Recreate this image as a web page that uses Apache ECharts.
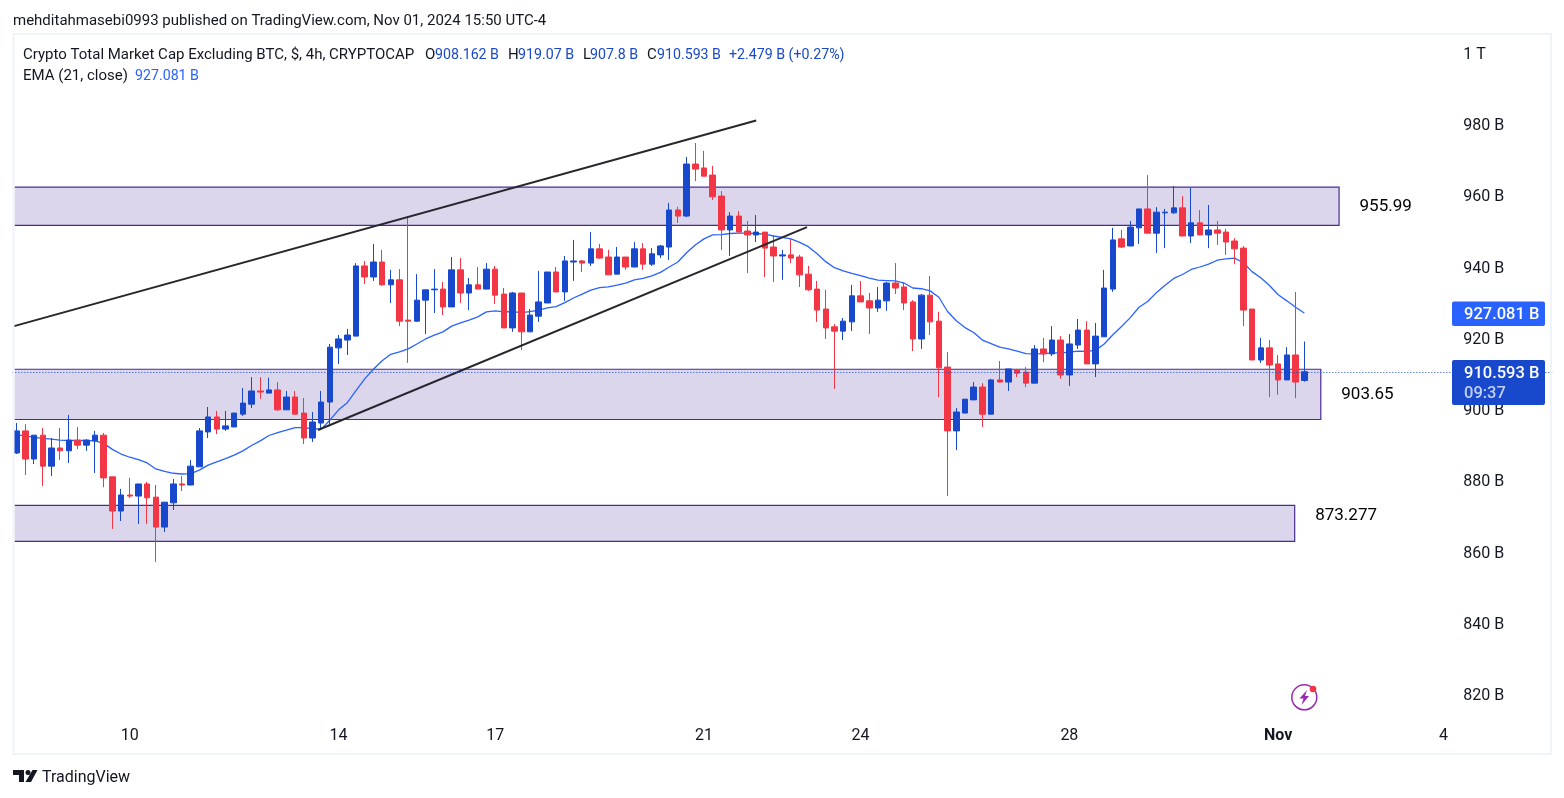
<!DOCTYPE html>
<html><head><meta charset="utf-8">
<style>html,body{margin:0;padding:0;background:#fff}#c{width:1564px;height:798px}</style>
<script src="https://cdn.jsdelivr.net/npm/echarts@6/dist/echarts.min.js"></script>
</head><body><div id="c"></div>
<script>
const opens=[887.8,894.0,886.1,892.8,884.1,889.2,888.4,891.4,890.0,891.2,
892.8,881.1,871.5,876.0,875.7,879.1,875.4,867.0,873.8,879.1,
878.8,883.9,893.7,897.9,894.5,895.1,898.7,901.5,905.2,904.6,
905.5,899.9,903.5,899.0,892.0,896.2,902.1,917.3,919.5,920.6,
940.3,937.2,941.4,935.0,936.4,925.1,924.8,930.7,933.6,933.8,
928.8,939.2,932.7,935.0,933.8,939.4,932.4,922.9,932.7,921.8,
926.2,929.9,938.6,933.0,941.4,941.7,941.1,945.1,942.8,938.0,
942.8,940.0,945.1,940.8,943.4,945.6,956.0,954.3,968.9,967.8,
965.8,959.9,950.4,954.3,950.1,949.0,949.8,945.6,943.1,943.4,
942.8,938.0,933.8,928.2,923.2,922.0,924.6,931.9,930.5,928.5,
930.5,935.5,934.4,930.2,919.8,932.1,924.8,911.9,894.0,899.0,
902.7,906.3,898.7,908.3,907.7,911.1,910.5,907.4,917.0,915.6,
919.5,909.7,918.1,922.3,912.8,920.4,933.8,947.9,945.9,951.0,
956.3,949.5,955.2,955.2,956.6,948.7,952.4,949.0,950.4,949.8,
947.3,945.3,928.2,913.9,917.3,912.8,908.3,915.3,908.162];
const closes=[894.0,886.1,892.8,884.1,889.2,888.4,891.4,890.0,891.4,892.8,
880.8,871.5,876.0,875.7,879.1,875.2,867.0,874.0,879.1,878.8,
884.1,894.0,897.9,894.5,895.4,899.0,901.8,905.2,904.9,905.5,
899.9,903.5,898.7,892.0,896.5,902.1,917.5,919.8,920.9,940.3,
937.2,941.4,935.0,936.4,924.8,924.8,930.7,933.6,933.8,928.8,
939.2,932.7,935.0,933.8,939.4,932.1,922.9,932.7,921.8,926.5,
930.2,938.6,933.0,941.7,941.7,941.1,945.1,942.5,937.8,942.8,
940.0,945.1,940.8,943.7,945.9,956.0,954.3,968.9,967.5,965.5,
959.7,950.4,954.3,949.8,949.0,949.8,945.3,943.1,943.4,942.5,
937.8,933.6,927.9,922.9,922.0,924.8,931.9,930.2,928.5,930.7,
935.5,934.1,929.9,919.8,932.1,924.6,911.7,894.0,899.3,902.9,
906.3,898.7,908.3,907.7,911.4,910.2,907.4,917.0,915.6,919.5,
909.7,918.4,922.3,912.8,920.6,934.1,947.6,945.6,951.2,956.3,
949.5,955.4,955.4,956.6,948.7,952.4,949.0,950.4,949.5,947.0,
945.1,927.9,913.9,917.3,912.5,908.3,915.3,907.7,910.593];
const lows=[887.5,881.6,884.7,878.5,881.3,885.8,885.0,888.9,888.4,882.2,
878.2,866.5,868.7,875.2,867.9,867.9,857.2,865.6,871.8,877.1,
878.8,883.9,892.0,893.1,894.0,895.1,898.2,900.4,903.0,904.6,
899.6,899.9,898.7,890.3,890.9,894.8,895.4,912.8,915.3,920.6,
935.2,936.1,934.7,929.9,923.4,913.1,924.6,921.2,927.1,926.5,
928.8,929.9,927.9,933.8,933.8,929.6,922.9,921.8,916.7,921.8,
924.6,929.9,933.0,930.5,936.1,938.6,940.3,942.3,937.8,938.0,
939.2,940.0,939.2,940.3,942.5,942.0,952.4,954.0,964.1,965.5,
958.8,944.8,943.1,949.8,938.3,947.0,937.2,935.8,936.4,941.1,
934.4,933.3,924.6,919.8,905.8,919.5,922.0,930.2,921.2,927.4,
927.7,932.4,927.9,916.4,917.0,920.9,903.5,875.7,888.6,899.0,
902.7,895.1,898.5,907.7,905.2,909.1,906.3,907.4,913.3,915.0,
908.6,906.6,917.0,912.8,909.1,920.4,933.0,945.3,945.9,946.5,
949.5,943.9,945.3,954.9,948.7,946.7,949.0,945.3,946.2,943.4,
940.8,923.4,913.9,913.1,903.5,904.1,908.3,903.2,907.8];
const highs=[896.2,895.9,892.8,894.8,892.0,894.8,898.5,895.1,891.7,894.0,
893.4,881.1,877.7,880.8,879.1,879.7,878.8,874.0,880.5,881.3,
885.8,894.8,900.7,899.6,899.6,899.0,906.0,909.1,909.1,908.9,
907.7,905.2,905.2,903.2,899.3,905.2,918.4,920.9,922.6,941.1,
941.7,946.5,944.8,939.2,939.4,954.3,938.0,933.6,939.4,935.8,
942.8,942.5,936.9,940.0,941.1,940.3,934.1,933.0,932.7,928.2,
938.9,938.6,940.0,943.1,947.6,942.0,949.8,946.5,944.8,945.6,
942.8,947.0,946.7,945.3,946.2,958.0,956.9,970.9,974.8,972.6,
968.4,961.3,955.4,955.7,952.9,954.6,949.8,949.0,944.8,947.9,
943.4,940.3,936.1,933.6,924.0,925.7,935.0,936.1,932.7,934.4,
935.8,941.1,935.8,930.7,932.4,937.5,927.4,916.1,900.4,902.9,
907.7,907.4,908.6,913.6,911.4,911.4,911.9,918.1,920.1,923.4,
920.6,921.2,925.4,924.8,924.3,939.2,951.0,950.4,952.9,956.3,
965.8,956.8,956.3,962.7,959.9,962.2,956.0,957.4,952.9,950.7,
948.1,945.9,928.2,920.1,919.5,915.3,917.5,933.0,919.07];
const ema=[892.9,892.6,892.2,891.9,891.7,891.4,891.3,891.3,891.3,891.2,
890.5,888.8,887.5,886.6,885.9,885,883.3,882.6,882.1,881.9,
882,883,884.4,885.3,886.2,887.2,888.4,889.9,891.2,892.7,
893.5,894.2,894.9,894.9,894.6,894.5,897,899.9,901.9,905.3,
908.6,911.3,913.7,915.5,916.2,917,918.4,919.8,920.9,921.8,
923.4,924.3,925.1,926,927.4,927.7,927.4,927.5,927.2,927.5,
927.9,928.5,928.9,930,931.3,932.4,933.5,934.2,934.4,934.9,
935.5,936.4,936.8,937.5,938.5,940,941.4,944,946.2,947.9,
949,949.1,949.4,949.5,949.5,949.4,949.2,948.7,948.3,947.9,
946.9,945.7,943.7,941.5,939.8,938.9,938.2,937.6,936.9,936.3,
936.2,936.1,935.5,934.1,933.9,933.3,931.5,927.5,924.9,923,
921.6,919.5,918.5,917.5,917,916.4,915.7,915.6,915.7,915.9,
915.9,916.1,916.4,916.3,916.6,918.4,921,923.3,925.8,928.7,
930.3,932.8,934.9,936.8,937.9,939.3,940,940.8,941.9,942.3,
942.5,941.2,938.7,937,934.8,932.2,930.5,928.7,927.081];
const tickBars=[13,37,55,79,97,121,145,164];
const tickLabels=['10','14','17','21','24','28','{b|Nov}','4'];
const totalBars=177;
const zoneTop=[962.4,911.3,873.1];
const zoneBottom=[951.7,897.2,863.0];
const zoneEnd=[152.5,150.4,147.4];
const zoneLabel=['955.99','903.65','873.277'];
const zoneLabelLevel=[956.9,904.1,870.1];
const trendUpper=[[0.2,923.4],[85.5,981.1]];
const trendLower=[[35.14,894.25],[91.34,951.2]];
const priceLineLevel=910.45;

const BLUE='#1848cc',RED='#f23645',INK='#131722',ZONE='#4a2c91';
const FONT='Roboto';
const cats=[];for(let i=0;i<totalBars;i++){const k=tickBars.indexOf(i);cats.push(k>=0?tickLabels[k]:'');}
const candle=opens.map((o,i)=>[o,closes[i],lows[i],highs[i]]);

function txt(x,y,s,fill,size,weight){return {type:'text',z:100,style:{x,y,text:s,fill:fill||INK,font:(weight?weight+' ':'')+(size||15)+'px '+FONT,verticalAlign:'middle',align:'left'}};}
const graphic=[
 {type:'rect',z:99,shape:{x:13.5,y:34,width:1537.5,height:720},style:{fill:'none',stroke:'#f0f3fa',lineWidth:2}},
 txt(13,21.5,'mehditahmasebi0993 published on TradingView.com, Nov 01, 2024 15:50 UTC-4'),
 txt(23,55.5,'Crypto Total Market Cap Excluding BTC, $, 4h, CRYPTOCAP'),
 txt(425,55.5,'O'),txt(435,55.5,'908.162 B',BLUE,14.2),
 txt(508,55.5,'H'),txt(518,55.5,'919.07 B',BLUE,14.2),
 txt(583,55.5,'L'),txt(590,55.5,'907.8 B',BLUE,14.2),
 txt(647,55.5,'C'),txt(657,55.5,'910.593 B',BLUE,14.2),
 txt(729,55.5,'+2.479 B (+0.27%)',BLUE,14.2),
 txt(23,76.5,'EMA (21, close)'),txt(135,76.5,'927.081 B','#2962ff',14.2),
 {type:'rect',z:100,shape:{x:1452,y:301.5,width:93,height:24.5,r:2},style:{fill:'#2962ff'}},
 txt(1464,314.5,'927.081 B','#fff',16.5,500),
 {type:'rect',z:100,shape:{x:1452,y:360,width:93,height:45,r:2},style:{fill:BLUE}},
 txt(1464,373.5,'910.593 B','#fff',16.5,500),
 txt(1464,393.5,'09:37','#c2cff2',16.5,500),
 txt(42,777.5,'TradingView','#131722',16),
 {type:'polygon',z:100,shape:{points:[[13,770],[24,770],[24,782],[19,782],[19,775],[13,775]]},style:{fill:'#131722'}},
 {type:'circle',z:100,shape:{cx:28,cy:772.5,r:2.5},style:{fill:'#131722'}},
 {type:'polygon',z:100,shape:{points:[[32.5,770],[37.5,770],[31,782],[25.5,782]]},style:{fill:'#131722'}},
 {type:'circle',z:100,shape:{cx:1304.3,cy:697.3,r:12.5},style:{fill:'#fff',stroke:'#9c27b0',lineWidth:1.5}},
 {type:'circle',z:101,shape:{cx:1313,cy:689,r:3.3},style:{fill:'#f23645'}},
 {type:'polygon',z:101,shape:{points:[[1307,690],[1299.5,698.5],[1303.5,698.5],[1301.5,705],[1309,696],[1305,696]]},style:{fill:'#9c27b0'}}
];
function zoneRender(params,api){
 const i=params.dataIndex;
 const a=api.coord([0.25,zoneTop[i]]),b=api.coord([zoneEnd[i],zoneBottom[i]]);
 const t=api.coord([zoneEnd[i],zoneLabelLevel[i]]);
 return {type:'group',children:[
  {type:'rect',shape:{x:a[0],y:a[1],width:b[0]-a[0],height:b[1]-a[1]},style:{fill:'#dcd6ec'}},
  {type:'polyline',shape:{points:[[a[0],a[1]],[b[0],a[1]],[b[0],b[1]],[a[0],b[1]]]},style:{fill:'none',stroke:ZONE,lineWidth:1.2}},
  {type:'text',style:{x:t[0]+20.5,y:t[1],text:zoneLabel[i],fill:'#000',font:'17px '+FONT,verticalAlign:'middle',align:'left'}}
 ]};
}
const trendStyle={color:'#26262c',width:2};
const option={
 animation:false,backgroundColor:'#fff',textStyle:{fontFamily:FONT},
 grid:{left:12.32,top:53.25,width:1539.9,height:641.25,containLabel:false},
 xAxis:[
  {type:'category',data:cats,axisLine:{show:false},axisTick:{show:false},splitLine:{show:false},
   axisLabel:{interval:(i)=>cats[i]!=='',margin:33,color:INK,fontSize:16,fontFamily:FONT,rich:{b:{fontWeight:'bold',fontSize:16,color:INK,fontFamily:FONT}}}},
  {type:'value',min:0,max:totalBars,show:false}
 ],
 yAxis:{type:'value',position:'right',min:820,max:1000,interval:20,splitLine:{show:false},axisLine:{show:false},axisTick:{show:false},
  axisLabel:{inside:true,align:'left',margin:89,color:INK,fontSize:16,fontFamily:FONT,
   rich:{a:{fontSize:16,color:INK,fontFamily:FONT,padding:[3,0,0,0]}},
   formatter:v=>'{a|'+(v>=1000?'1 T':v+' B')+'}'}},
 graphic:graphic,
 series:[
  {type:'custom',name:'zones',xAxisIndex:1,yAxisIndex:0,z:1,clip:false,silent:true,renderItem:zoneRender,
   data:zoneEnd.map((e,i)=>[e,zoneTop[i]])},
  {type:'line',name:'EMA',data:ema,z:2,showSymbol:false,symbol:'none',lineStyle:{color:'#2962ff',width:1.3},silent:true},
  {type:'candlestick',name:'TOTAL2',data:candle,z:3,barWidth:6,
   itemStyle:{color:BLUE,color0:RED,borderColor:BLUE,borderColor0:RED,borderWidth:1},
   markLine:{silent:true,symbol:'none',label:{show:false},animation:false,
    lineStyle:{color:BLUE,type:[1,2],width:1},data:[{yAxis:priceLineLevel}]}},
  {type:'line',name:'upper',xAxisIndex:1,data:trendUpper,z:4,showSymbol:false,symbol:'none',lineStyle:trendStyle,silent:true},
  {type:'line',name:'lower',xAxisIndex:1,data:trendLower,z:4,showSymbol:false,symbol:'none',lineStyle:trendStyle,silent:true}
 ]
};
echarts.init(document.getElementById('c'),null,{renderer:'canvas'}).setOption(option);
</script></body></html>
